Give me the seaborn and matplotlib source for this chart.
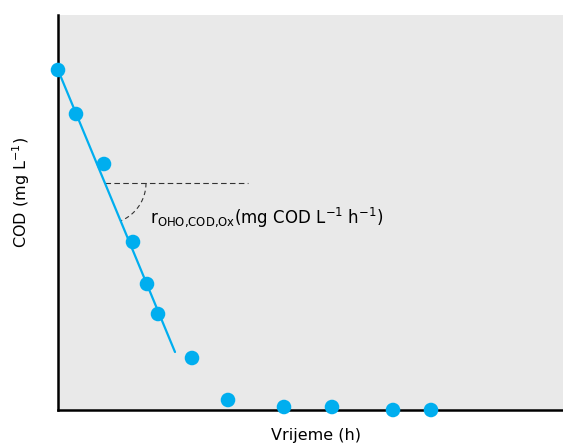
import numpy as np
import matplotlib
matplotlib.use("Agg")
import matplotlib.pyplot as plt
import seaborn as sns
import pandas as pd

time_h = [0.0, 0.45, 1.15, 1.875, 2.225, 2.5, 3.35, 4.25, 5.65, 6.85, 8.375, 9.325]
cod = [340, 296, 246, 168, 126, 96, 52, 10, 3, 3, 0, 0]

# fitted oxidation line
fit_time = [0.0, 2.925]
fit_cod = [340, 58]

# dashed reference line for the rate angle
ref_time = [1.175, 4.75]
ref_cod = [227, 227]

blue = "#00aeef"

sns.set_theme(style="white")
plt.rcParams["font.family"] = ["DejaVu Sans"]
plt.rcParams["mathtext.default"] = "regular"

df = pd.DataFrame({"Vrijeme": time_h, "COD": cod})

fig = plt.figure(figsize=(5.63, 4.46), dpi=100)
ax = fig.add_axes([58 / 563, 36 / 446, 505 / 563, 395 / 446])
ax.set_facecolor("#e9e9e9")

ax.plot(fit_time, fit_cod, color=blue, lw=1.6, zorder=2)
sns.scatterplot(data=df, x="Vrijeme", y="COD", color=blue, s=110,
                edgecolor="none", ax=ax, zorder=3, clip_on=False)

ax.plot(ref_time, ref_cod, color="#333333", lw=0.8, ls=(0, (5, 3)), zorder=1)

# angle arc (drawn in pixel space, 40 px per hour, 1 px per unit COD)
px_x, px_y = 40.0, 1.0
slope_px = (fit_cod[0] - fit_cod[1]) / ((fit_time[1] - fit_time[0]) * px_x)
ang = np.arctan(slope_px)
t = np.linspace(0, -ang, 40)
r = 41
ax.plot(ref_time[0] + r * np.cos(t) / px_x, ref_cod[0] + r * np.sin(t) / px_y,
        color="#333333", lw=0.8, ls=(0, (4, 3)), zorder=1)

ax.text(2.3, 187, r"r$_{OHO{,}COD{,}Ox}$(mg COD L$^{-1}$ h$^{-1}$)",
        fontsize=12, color="black")

ax.set_xlim(0, 505 / px_x)
ax.set_ylim(0, 395)
ax.set_xticks([])
ax.set_yticks([])
for side in ["top", "right"]:
    ax.spines[side].set_visible(False)
for side in ["left", "bottom"]:
    ax.spines[side].set_color("black")
    ax.spines[side].set_linewidth(1.8)

ax.set_xlabel("Vrijeme (h)", fontsize=11.5, color="black")
ax.set_ylabel("COD (mg L$^{-1}$)", fontsize=11.5, color="black")
ax.xaxis.set_label_coords(0.511, -0.045)
ax.yaxis.set_label_coords(-0.052, 0.55)

fig.savefig("out.png", dpi=100)
